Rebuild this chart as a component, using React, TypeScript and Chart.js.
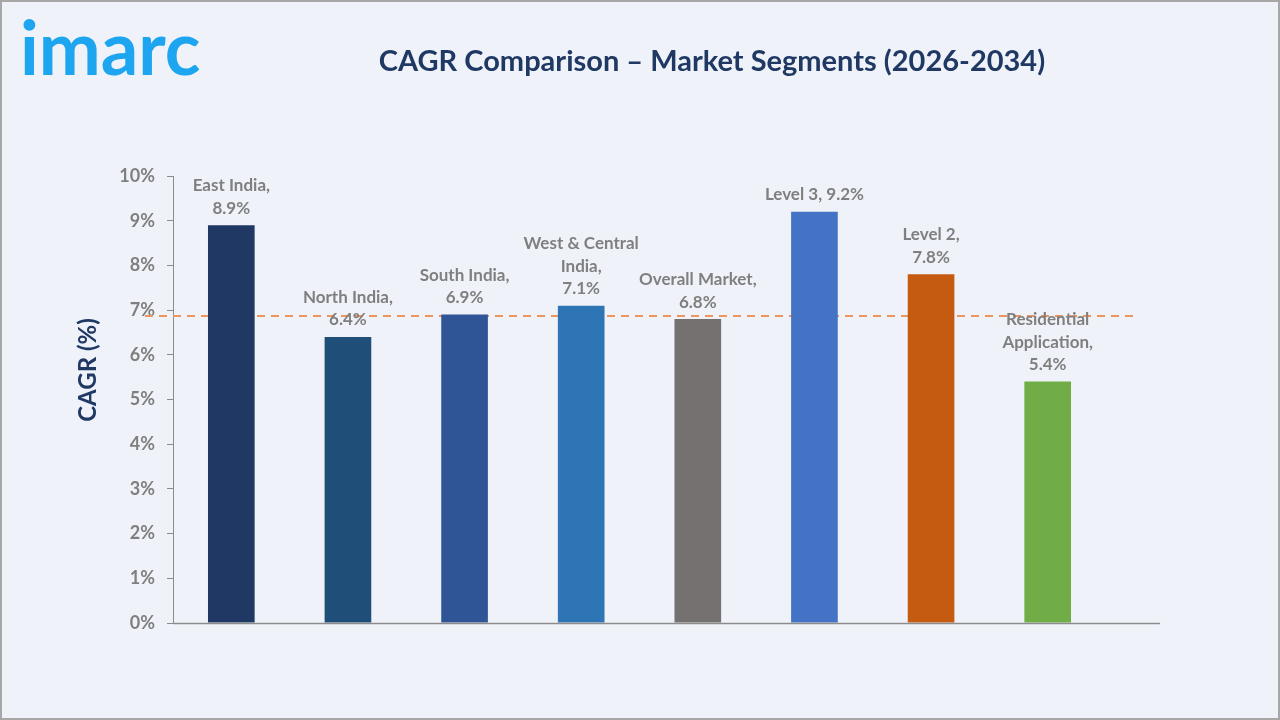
import React, { useEffect, useRef } from "react";
import { Chart, registerables } from "chart.js";

Chart.register(...registerables);

const categories = [
  "East India",
  "North India",
  "South India",
  "West & Central India",
  "Overall Market",
  "Level 3",
  "Level 2",
  "Residential Application",
];
const cagrValues = [8.9, 6.4, 6.9, 7.1, 6.8, 9.2, 7.8, 5.4];
const barColors = ["#203864", "#1f4e79", "#2f5597", "#2e75b6", "#767171", "#4472c4", "#c55a11", "#70ad47"];
const labelLines = [
  ["East India,", "8.9%"],
  ["North India,", "6.4%"],
  ["South India,", "6.9%"],
  ["West & Central", "India,", "7.1%"],
  ["Overall Market,", "6.8%"],
  ["Level 3, 9.2%"],
  ["Level 2,", "7.8%"],
  ["Residential", "Application,", "5.4%"],
];
const referenceLine = 6.87;
const yTicks = [0, 1, 2, 3, 4, 5, 6, 7, 8, 9, 10];
const titleText = "CAGR Comparison – Market Segments (2026-2034)";
const yAxisTitle = "CAGR (%)";

const FONT = "Lato, 'Open Sans', sans-serif";

const decorPlugin = {
  id: "decor",
  beforeDatasetsDraw(chart: any) {
    const { ctx, scales, chartArea } = chart;
    const y = scales.y.getPixelForValue(referenceLine);
    ctx.save();
    ctx.strokeStyle = "#eb9560";
    ctx.lineWidth = 2;
    ctx.setLineDash([8, 6]);
    ctx.beginPath();
    ctx.moveTo(chartArea.left - 28, y);
    ctx.lineTo(chartArea.right + 29, y);
    ctx.stroke();
    ctx.restore();
  },
  afterDatasetsDraw(chart: any) {
    const { ctx, chartArea } = chart;
    const meta = chart.getDatasetMeta(0);
    ctx.save();
    // base axis line extended
    ctx.strokeStyle = "#8c8c8c";
    ctx.lineWidth = 1.5;
    ctx.beginPath();
    ctx.moveTo(chartArea.left, chartArea.bottom + 0.5);
    ctx.lineTo(chartArea.right + 54, chartArea.bottom + 0.5);
    ctx.stroke();

    ctx.fillStyle = "#7f7f7f";
    ctx.font = `bold 17px ${FONT}`;
    ctx.textAlign = "center";
    ctx.textBaseline = "middle";
    meta.data.forEach((bar: any, i: number) => {
      const lines = labelLines[i];
      const n = lines.length;
      lines.forEach((line, j) => {
        const yy = bar.y - 17 - (n - 1 - j) * 22.5;
        ctx.fillText(line, bar.x, yy);
      });
    });

    // title
    ctx.fillStyle = "#203864";
    ctx.font = `bold 29px ${FONT}`;
    ctx.fillText(titleText, 710, 60);

    // y axis title
    ctx.save();
    ctx.translate(86, 368);
    ctx.rotate(-Math.PI / 2);
    ctx.font = `bold 24px ${FONT}`;
    ctx.fillText(yAxisTitle, 0, 0);
    ctx.restore();

    // logo
    ctx.fillStyle = "#1ea5f0";
    ctx.font = `bold 74px ${FONT}`;
    ctx.textAlign = "left";
    ctx.textBaseline = "alphabetic";
    ctx.fillText("imarc", 18, 73);
    ctx.restore();
  },
};

export default function App() {
  const ref = useRef<HTMLCanvasElement | null>(null);
  useEffect(() => {
    document.body.style.margin = "0";
    const canvas = ref.current!;
    const chart = new Chart(canvas, {
      type: "bar",
      data: {
        labels: categories,
        datasets: [
          {
            data: cagrValues,
            backgroundColor: barColors,
            barPercentage: 0.4,
            categoryPercentage: 1,
          },
        ],
      },
      options: {
        responsive: false,
        animation: false,
        devicePixelRatio: 1,
        layout: { padding: { left: 0, right: 172, top: 174, bottom: 0 } },
        plugins: { legend: { display: false }, tooltip: { enabled: false }, title: { display: false } },
        scales: {
          x: {
            ticks: { display: false },
            grid: { display: false },
            border: { display: false },
            afterFit: (s: any) => {
              s.height = 95;
            },
          },
          y: {
            min: 0,
            max: 10,
            afterBuildTicks: (s: any) => {
              s.ticks = yTicks.map((v) => ({ value: v }));
            },
            ticks: {
              callback: (v: any) => v + "%",
              color: "#7f7f7f",
              font: { family: FONT, size: 18, weight: "bold" },
              padding: 12,
            },
            grid: { drawOnChartArea: false, drawTicks: true, tickLength: 6, color: "#8c8c8c" },
            border: { display: true, color: "#8c8c8c", width: 1 },
            afterFit: (s: any) => {
              s.width = 171;
            },
          },
        },
      },
      plugins: [decorPlugin],
    });
    return () => chart.destroy();
  }, []);
  return (
    <div
      style={{
        position: "fixed",
        left: 0,
        top: 0,
        width: 1280,
        height: 720,
        boxSizing: "border-box",
        border: "2px solid #a6a6a6",
        background: "#eff3f9",
      }}
    >
      <canvas ref={ref} width={1276} height={716} style={{ display: "block", width: 1276, height: 716 }} />
    </div>
  );
}
